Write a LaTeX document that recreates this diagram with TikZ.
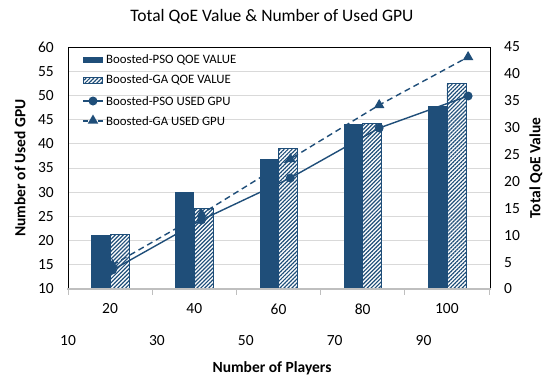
\documentclass[tikz,border=0pt]{standalone}
\usepackage{fontspec}
\setmainfont{Carlito}
\usetikzlibrary{patterns.meta,shapes.geometric}
\definecolor{dblue}{HTML}{1F4E79}
\definecolor{gridgray}{HTML}{D9D9D9}
\definecolor{axgray}{HTML}{BFBFBF}
\begin{document}
\begin{tikzpicture}[x=1pt,y=-1pt,
  ticklbl/.style={font=\fontsize{15.5}{18}\selectfont, inner sep=0pt},
  axtitle/.style={font=\fontsize{15.5}{18}\selectfont\bfseries, inner sep=0pt},
  legtext/.style={font=\fontsize{12.8}{15}\selectfont, inner sep=0pt, anchor=west},
  psobar/.style={fill=dblue, draw=none},
  gabar/.style={preaction={fill=white}, pattern={Lines[angle=45,distance=2.8pt,line width=1.2pt]}, pattern color=dblue, draw=dblue, line width=0.8pt},
  psoline/.style={draw=dblue, line width=1.4pt},
  galine/.style={draw=dblue, line width=1.4pt, dash pattern=on 6pt off 4pt},
  psomark/.style={circle, fill=dblue, minimum size=9pt, inner sep=0pt},
  gamark/.style={regular polygon, regular polygon sides=3, fill=dblue, minimum size=12pt, inner sep=0pt},
  gridline/.style={draw=gridgray, line width=0.9pt},
  frame/.style={draw=black, line width=0.9pt},
  axisline/.style={draw=axgray, line width=1.6pt},
  tickmark/.style={draw=axgray, line width=0.9pt}
]
\useasboundingbox (0,0) rectangle (544,378);
\fill[white] (0,0) rectangle (544,378);

% title
\node[font=\fontsize{17.5}{20}\selectfont, inner sep=0pt] (title) at (272,17) {Total QoE Value \& Number of Used GPU};

% gridlines
\foreach \k in {1,...,9} {
  \draw[gridline] (68,{289-24.2*\k}) -- (490,{289-24.2*\k});
}

% bars
\foreach \c/\pt/\gt in {110.1/235/234, 194.3/192/208, 278.5/159/148, 362.7/124/123, 446.9/106/83} {
  \fill[psobar] ({\c-19},289) rectangle (\c,\pt);
  \draw[gabar] (\c,289) rectangle ({\c+19},\gt);
}

% frame and axis
\draw[frame] (68,289) -- (68,47) -- (490,47) -- (490,289);
\draw[axisline] (67,289) -- (491,289);
\foreach \k in {0,...,5} {
  \draw[tickmark] ({68+84.2*\k},289) -- ({68+84.2*\k},295);
}

% left tick labels
\foreach \v [count=\i from 0] in {10,15,20,25,30,35,40,45,50,55,60} {
  \node[ticklbl, anchor=east] (l\i) at (54,{289-24.2*\i}) {\v};
}
% right tick labels
\foreach \v [count=\i from 0] in {0,5,10,15,20,25,30,35,40,45} {
  \node[ticklbl, anchor=west] (r\i) at (504,{289-26.89*\i}) {\v};
}
% bottom labels
\foreach \v [count=\i from 0] in {20,40,60,80,100} {
  \node[ticklbl] (b\i) at ({110.1+84.2*\i},309) {\v};
}
\foreach \v [count=\i from 0] in {10,30,50,70,90} {
  \node[ticklbl] (s\i) at ({68+88.9*\i},341) {\v};
}

% axis titles
\node[axtitle] (xtitle) at (272,368) {Number of Players};
\node[axtitle, rotate=90] (ytitle) at (20,168) {Number of Used GPU};
\node[axtitle, rotate=90] (y2title) at (536,168) {Total QoE Value};

% line series
\foreach \x/\y [count=\i] in {112.5/270, 201.4/220, 290.3/178, 379.2/128, 468.1/96} {
  \coordinate (p\i) at (\x,\y);
}
\foreach \x/\y [count=\i] in {112.5/265, 201.4/214, 290.3/159, 379.2/105, 468.1/57} {
  \coordinate (g\i) at (\x,\y);
}
\draw[psoline] (p1) -- (p2) -- (p3) -- (p4) -- (p5);
\foreach \i in {1,...,5} { \node[psomark] (pm\i) at (p\i) {}; }
\draw[galine] (g1) -- (g2) -- (g3) -- (g4) -- (g5);
\foreach \i in {1,...,5} { \node[gamark] (gm\i) at (g\i) {}; }

% legend
\fill[psobar] (83,56.5) rectangle (103,62.5);
\node[legtext] (leg1) at (106,59.5) {Boosted-PSO QOE VALUE};
\draw[gabar] (83.5,77) rectangle (102.5,83);
\node[legtext] (leg2) at (106,80) {Boosted-GA QOE VALUE};
\coordinate (la) at (83,101);
\coordinate (lb) at (103,101);
\draw[psoline] (la) -- (lb);
\node[psomark] (lm3) at (93,101) {};
\node[legtext] (leg3) at (106,101) {Boosted-PSO USED GPU};
\coordinate (lc) at (83,121);
\coordinate (ld) at (103,121);
\draw[galine, dash pattern=on 5pt off 10pt] (lc) -- (ld);
\node[gamark] (lm4) at (93,120.5) {};
\node[legtext] (leg4) at (106,121) {Boosted-GA USED GPU};
\end{tikzpicture}
\end{document}
